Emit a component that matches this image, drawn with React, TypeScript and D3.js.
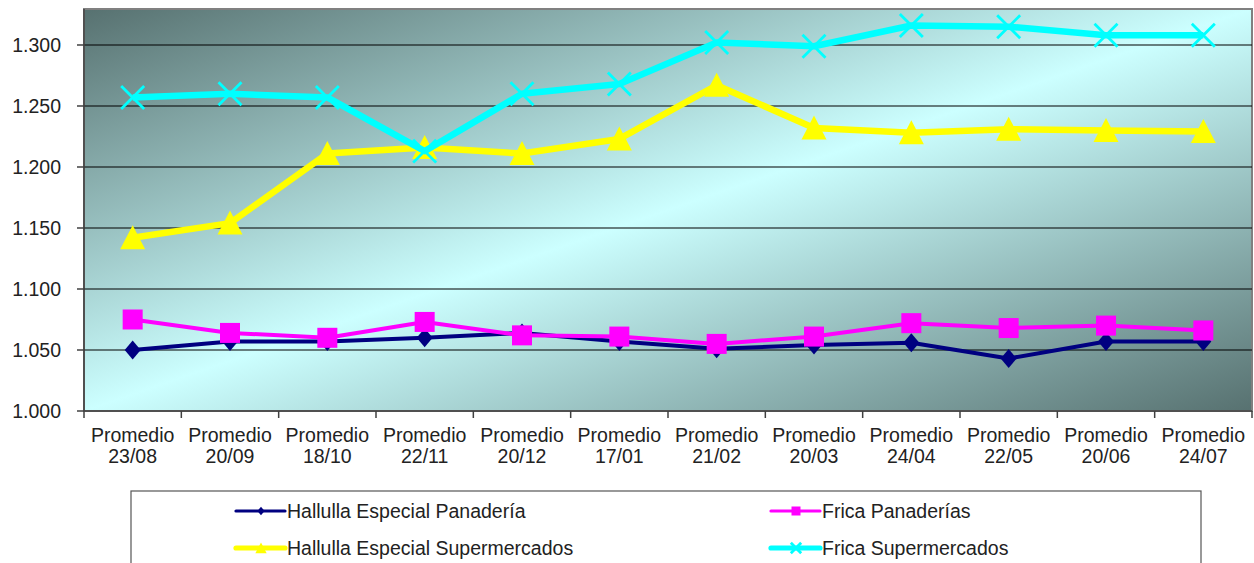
import React from "react";
import * as d3 from "d3";

const categories = ["23/08", "20/09", "18/10", "22/11", "20/12", "17/01", "21/02", "20/03", "24/04", "22/05", "20/06", "24/07"];
const halPan = [1.050, 1.057, 1.057, 1.060, 1.064, 1.057, 1.051, 1.054, 1.056, 1.043, 1.057, 1.057];
const fricaPan = [1.075, 1.064, 1.060, 1.073, 1.062, 1.061, 1.055, 1.061, 1.072, 1.068, 1.070, 1.066];
const halSup = [1.142, 1.154, 1.211, 1.216, 1.211, 1.223, 1.267, 1.232, 1.228, 1.231, 1.230, 1.229];
const fricaSup = [1.257, 1.260, 1.257, 1.213, 1.260, 1.268, 1.302, 1.299, 1.316, 1.315, 1.308, 1.308];
const yTicks = [1.0, 1.05, 1.1, 1.15, 1.2, 1.25, 1.3];

const W = 1254, H = 563;
const L = 84, R = 1252, T = 9, B = 411;

const series = [
  { name: "Hallulla Especial Panadería", data: halPan, color: "#000080", width: 4, marker: "diamond" },
  { name: "Frica Panaderías", data: fricaPan, color: "#ff00ff", width: 4, marker: "square" },
  { name: "Hallulla Especial Supermercados", data: halSup, color: "#ffff00", width: 6.5, marker: "triangle" },
  { name: "Frica Supermercados", data: fricaSup, color: "#00ffff", width: 6.5, marker: "x" },
];

function Marker({ type, x, y, color, s = 1 }: { type: string; x: number; y: number; color: string; s?: number }) {
  if (type === "diamond") {
    const rx = 8 * s, ry = 9.5 * s;
    return <path d={`M${x},${y - ry}L${x + rx},${y}L${x},${y + ry}L${x - rx},${y}Z`} fill={color} />;
  }
  if (type === "square") {
    const r = 10 * s;
    return <rect x={x - r} y={y - r} width={2 * r} height={2 * r} fill={color} />;
  }
  if (type === "triangle") {
    const r = 12.5 * s;
    return <path d={`M${x},${y - r}L${x + r},${y + r * 0.92}L${x - r},${y + r * 0.92}Z`} fill={color} />;
  }
  const r = 11.5 * s;
  return (
    <path d={`M${x - r},${y - r}L${x + r},${y + r}M${x + r},${y - r}L${x - r},${y + r}`} stroke={color} strokeWidth={2.8} fill="none" />
  );
}

export default function App() {
  const x = d3.scaleBand<string>().domain(categories).range([L, R]);
  const y = d3.scaleLinear().domain([1.0, 1.3295]).range([B, T]);
  const cx = (c: string) => (x(c) as number) + x.bandwidth() / 2;
  const line = d3
    .line<number>()
    .x((_, i) => cx(categories[i]))
    .y((d) => y(d));
  const font = "'Liberation Sans', Arial, sans-serif";
  const fs = 19.5;

  return (
    <svg width={W} height={H} style={{ position: "absolute", left: 0, top: 0 }} fontFamily={font}>
      <defs>
        <linearGradient id="bg" x1="0" y1="0" x2="1" y2="1">
          <stop offset="0" stopColor="#577170" />
          <stop offset="0.5" stopColor="#ccffff" />
          <stop offset="1" stopColor="#577170" />
        </linearGradient>
      </defs>
      <rect x={0} y={0} width={W} height={H} fill="#ffffff" />
      <rect x={L} y={T} width={R - L} height={B - T} fill="url(#bg)" stroke="#808080" strokeWidth={2} />
      {yTicks.slice(1).map((t) => (
        <line key={t} x1={L} x2={R} y1={y(t)} y2={y(t)} stroke="#000" strokeWidth={1.2} />
      ))}
      {/* y axis */}
      <line x1={L} x2={L} y1={T} y2={B} stroke="#404040" strokeWidth={1.5} />
      {yTicks.map((t) => (
        <g key={t}>
          <line x1={L - 7} x2={L} y1={y(t)} y2={y(t)} stroke="#404040" strokeWidth={1.5} />
          <text x={61} y={y(t)} dy="0.36em" textAnchor="end" fontSize={fs} fill="#222">
            {d3.format(".3f")(t)}
          </text>
        </g>
      ))}
      {/* x axis */}
      <line x1={L} x2={R} y1={B} y2={B} stroke="#404040" strokeWidth={1.5} />
      {categories.map((c, i) => (
        <g key={c}>
          <line x1={x(c) as number} x2={x(c) as number} y1={B} y2={B + 7} stroke="#404040" strokeWidth={1.5} />
          <text x={cx(c)} y={442} textAnchor="middle" fontSize={fs} fill="#222">Promedio</text>
          <text x={cx(c)} y={463} textAnchor="middle" fontSize={fs} fill="#222">{c}</text>
          {i === categories.length - 1 && (
            <line x1={R} x2={R} y1={B} y2={B + 7} stroke="#404040" strokeWidth={1.5} />
          )}
        </g>
      ))}
      {/* series */}
      {series.map((s) => (
        <g key={s.name}>
          <path d={line(s.data) || ""} fill="none" stroke={s.color} strokeWidth={s.width} strokeLinejoin="round" />
          {s.data.map((v, i) => (
            <Marker key={i} type={s.marker} x={cx(categories[i])} y={y(v)} color={s.color} />
          ))}
        </g>
      ))}
      {/* legend */}
      <rect x={131} y={491} width={1070} height={80} fill="#fff" stroke="#555" strokeWidth={1.2} />
      {series.map((s, i) => {
        const col = i % 2;
        const row = Math.floor(i / 2);
        const lx = col === 0 ? 236 : 771;
        const ly = row === 0 ? 511 : 548;
        return (
          <g key={s.name}>
            <line x1={lx} x2={lx + 49} y1={ly} y2={ly} stroke={s.color} strokeWidth={s.width * 0.8} strokeLinecap="round" />
            <Marker type={s.marker} x={lx + 25} y={ly} color={s.color} s={0.45} />
            <text x={lx + 51} y={ly} dy="0.36em" fontSize={fs} fill="#222">{s.name}</text>
          </g>
        );
      })}
    </svg>
  );
}
